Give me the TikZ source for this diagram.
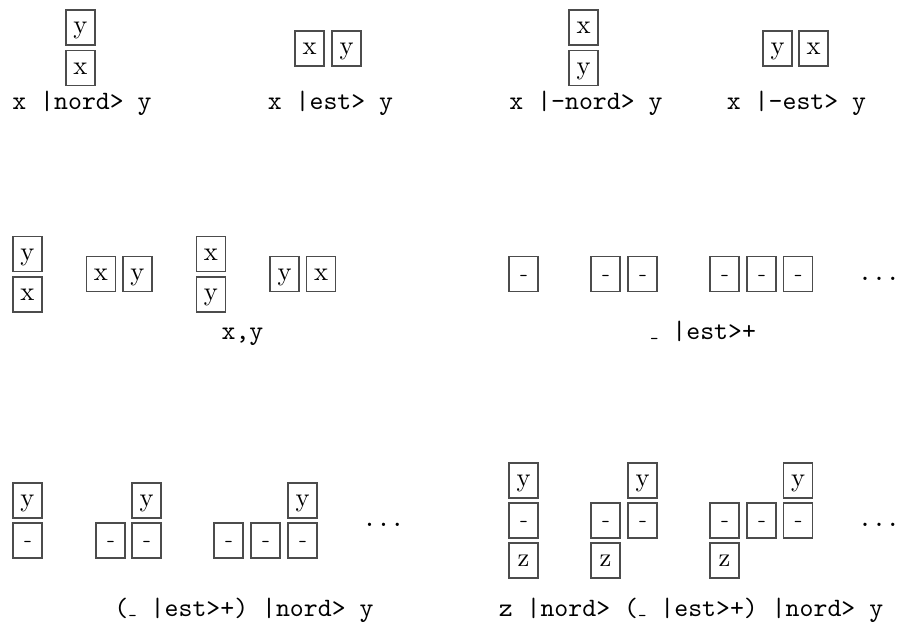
\documentclass[tikz,border=0pt]{standalone}
\usetikzlibrary{positioning}
\newcommand\trou[1][1pt]{\raisebox{#1}{\ttfamily\fontsize{6pt}{6pt}\selectfont\_}}

\begin{document}
\begin{tikzpicture}[
  x=0.377pt, y=-0.377pt,
  case/.style={draw=black!70, line width=0.45pt, minimum width=10.9pt,
              inner sep=0pt, text height=8.9pt, text depth=4.3pt},
  formule/.style={font=\ttfamily, anchor=base, inner sep=0pt},
  suite/.style={font=\ttfamily, anchor=base, inner sep=0pt},
]
\useasboundingbox (0,0) rectangle (898,625);

% Ligne 1 : les quatre operateurs
\node[case] (a1y) at (80.5, 27.5) {y};
\node[case] (a1x) at (80.5, 68) {x};
\node[formule] (f1) at (82, 110) {x |nord> y};

\node[case] (b1x) at (309.5, 48.5) {x};
\node[case] (b1y) at (346.5, 48.5) {y};
\node[formule] (f2) at (330.5, 110) {x |est> y};

\node[case] (c1x) at (583.5, 27.5) {x};
\node[case] (c1y) at (583.5, 68) {y};
\node[formule] (f3) at (586, 110) {x |-nord> y};

\node[case] (d1y) at (777.5, 48.5) {y};
\node[case] (d1x) at (813.5, 48.5) {x};
\node[formule] (f4) at (796.5, 110) {x |-est> y};

% Ligne 2 : x,y
\node[case] (a2y) at (27.5, 254) {y};
\node[case] (a2x) at (27.5, 294.5) {x};
\node[case] (b2x) at (101, 274) {x};
\node[case] (b2y) at (137.5, 274) {y};
\node[case] (c2x) at (211, 254) {x};
\node[case] (c2y) at (211, 294.5) {y};
\node[case] (d2y) at (284.5, 274) {y};
\node[case] (d2x) at (321, 274) {x};
\node[formule] (f5) at (242.5, 340) {x,y};

% Ligne 2 : _ |est>+
\node[case] (e2a) at (523.5, 274) {\trou[2.2pt]};
\node[case] (e2b) at (605.5, 274) {\trou[2.2pt]};
\node[case] (e2c) at (642.5, 274) {\trou[2.2pt]};
\node[case] (e2d) at (724.5, 274) {\trou[2.2pt]};
\node[case] (e2e) at (761.5, 274) {\trou[2.2pt]};
\node[case] (e2f) at (798, 274) {\trou[2.2pt]};
\node[suite] (s1) at (879, 281) {...};
\node[formule] (f6) at (703, 340) {\trou{} |est>+};

% Ligne 3 : (_ |est>+) |nord> y
\node[case] (a3y) at (27.5, 500.5) {y};
\node[case] (a3a) at (27.5, 540.5) {\trou[2.2pt]};
\node[case] (b3a) at (110.5, 540.5) {\trou[2.2pt]};
\node[case] (b3b) at (146.5, 540.5) {\trou[2.2pt]};
\node[case] (b3y) at (146.5, 500.5) {y};
\node[case] (c3a) at (228.5, 540.5) {\trou[2.2pt]};
\node[case] (c3b) at (265.5, 540.5) {\trou[2.2pt]};
\node[case] (c3c) at (302.5, 540.5) {\trou[2.2pt]};
\node[case] (c3y) at (302.5, 500.5) {y};
\node[suite] (s2) at (383.5, 527) {...};
\node[formule] (f7) at (244, 617) {(\trou{} |est>+) |nord> y};

% Ligne 3 : z |nord> (_ |est>+) |nord> y
\node[case] (d3y) at (523.5, 480.5) {y};
\node[case] (d3a) at (523.5, 520.5) {\trou[2.2pt]};
\node[case] (d3z) at (523.5, 560.5) {z};
\node[case] (e3a) at (605.5, 520.5) {\trou[2.2pt]};
\node[case] (e3z) at (605.5, 560.5) {z};
\node[case] (e3b) at (642.5, 520.5) {\trou[2.2pt]};
\node[case] (e3y) at (642.5, 480.5) {y};
\node[case] (g3a) at (724.5, 520.5) {\trou[2.2pt]};
\node[case] (g3z) at (724.5, 560.5) {z};
\node[case] (g3b) at (761.5, 520.5) {\trou[2.2pt]};
\node[case] (g3c) at (798, 520.5) {\trou[2.2pt]};
\node[case] (g3y) at (798, 480.5) {y};
\node[suite] (s3) at (879, 527) {...};
\node[formule] (f8) at (691, 617) {z |nord> (\trou{} |est>+) |nord> y};
\end{tikzpicture}
\end{document}
